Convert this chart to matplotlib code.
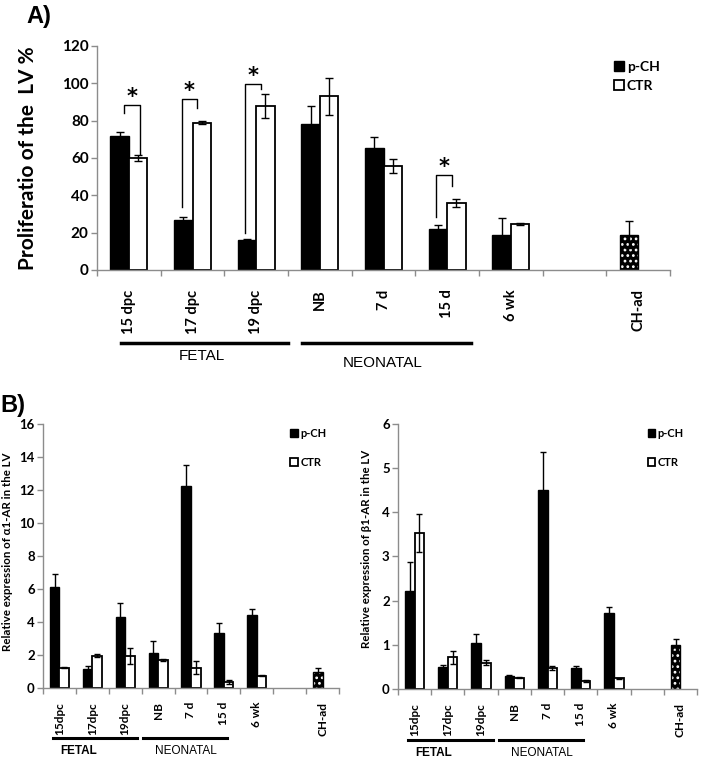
import matplotlib
matplotlib.use("Agg")
import matplotlib.pyplot as plt
import numpy as np

plt.rcParams["font.family"] = ["Lato", "DejaVu Sans"]
plt.rcParams["hatch.linewidth"] = 1.2

# ---- data --------------------------------------------------------------
a_labels = ["15 dpc", "17 dpc", "19 dpc", "NB", "7 d", "15 d", "6 wk", "", "CH-ad"]
a_pch = [72, 27, 16, 78, 65.5, 22, 18.6]
a_pch_err = [2, 1.5, 0.5, 10, 6, 2, 9.3]
a_ctr = [60, 79, 88, 93, 55.7, 36, 24.6]
a_ctr_err = [1.5, 1, 6.5, 10, 3.5, 2, 0.5]
a_chad = 19
a_chad_err = 7

# significance brackets: category, bracket top, left leg end, right leg end
sig_cats = [0, 1, 2, 5]
sig_top = [88.5, 91.6, 99.6, 51]
sig_left = [84, 34, 20, 28.5]
sig_right = [62, 87, 97, 45]
sig_shift = [0.1, 0.0, 0.0, 0.0]

b_labels = ["15dpc", "17dpc", "19dpc", "NB", "7 d", "15 d", "6 wk", "", "CH-ad"]
alpha_pch = [6.15, 1.18, 4.28, 2.11, 12.25, 3.31, 4.44]
alpha_pch_err = [0.75, 0.15, 0.85, 0.75, 1.25, 0.65, 0.33]
alpha_ctr = [1.22, 1.97, 1.93, 1.70, 1.24, 0.37, 0.75]
alpha_ctr_err = [0.03, 0.1, 0.5, 0.08, 0.37, 0.1, 0.03]
alpha_chad = 0.99
alpha_chad_err = 0.2

beta_pch = [2.22, 0.49, 1.05, 0.29, 4.5, 0.47, 1.71]
beta_pch_err = [0.65, 0.05, 0.19, 0.02, 0.86, 0.06, 0.15]
beta_ctr = [3.53, 0.72, 0.6, 0.26, 0.48, 0.18, 0.24]
beta_ctr_err = [0.43, 0.15, 0.06, 0.02, 0.04, 0.02, 0.02]
beta_chad = 1.0
beta_chad_err = 0.13

groups = ["FETAL", "NEONATAL"]

W = 0.29
GRAY = "#8c8c8c"


def draw_panel(ax, labels, pch, pch_err, ctr, ctr_err, chad, chad_err,
               ymax, ystep, capsize, tick_fs, xtick_fs, xpad):
    x = np.arange(len(pch))
    ax.bar(x - W / 2, pch, W, color="black", edgecolor="black", lw=1, label="p-CH", zorder=2)
    ax.bar(x + W / 2, ctr, W, color="white", edgecolor="black", lw=1.3, label="CTR", zorder=2)
    ax.errorbar(x - W / 2, pch, yerr=pch_err, fmt="none", ecolor="black",
                elinewidth=1, capsize=capsize, capthick=1, zorder=3)
    ax.errorbar(x + W / 2, ctr, yerr=ctr_err, fmt="none", ecolor="black",
                elinewidth=1, capsize=capsize, capthick=1, zorder=3)

    # adult group: single dotted bar in the p-CH slot
    xc = len(labels) - 1 - W / 2
    ax.bar([xc], [chad], W, color="black", edgecolor="white", hatch="...", lw=0, zorder=2)
    ax.bar([xc], [chad], W, fill=False, edgecolor="black", lw=1, zorder=2)
    ax.errorbar([xc], [chad], yerr=[chad_err], fmt="none", ecolor="black",
                elinewidth=1, capsize=capsize, capthick=1, zorder=3)

    ax.set_xlim(-0.5, len(labels) - 0.5)
    ax.set_ylim(0, ymax)
    ax.set_yticks(np.arange(0, ymax + 0.01, ystep))
    ax.set_xticks(np.arange(len(labels)))
    ax.set_xticklabels(labels, rotation=90, fontsize=xtick_fs, fontweight="bold")
    ax.set_xticks(np.arange(len(labels) + 1) - 0.5, minor=True)
    ax.tick_params(axis="x", which="major", length=0, pad=xpad)
    ax.tick_params(axis="x", which="minor", length=4, color=GRAY, width=1)
    ax.tick_params(axis="y", length=4, color=GRAY, width=1, pad=2, labelsize=tick_fs)
    for t in ax.get_yticklabels():
        t.set_fontweight("bold")
    for s in ["top", "right"]:
        ax.spines[s].set_visible(False)
    for s in ["left", "bottom"]:
        ax.spines[s].set_color(GRAY)
        ax.spines[s].set_linewidth(1)


fig = plt.figure(figsize=(7.01, 7.59), dpi=100)

# ---- panel A -----------------------------------------------------------
axA = fig.add_axes([0.1384, 0.6443, 0.8174, 0.2951])
draw_panel(axA, a_labels, a_pch, a_pch_err, a_ctr, a_ctr_err, a_chad, a_chad_err,
           120, 20, 3, 11, 10.5, 14)
axA.set_ylabel("Proliferatio of the  LV %", fontsize=15, fontweight="bold")
axA.yaxis.set_label_coords(-0.103, 0.5)

for c, top, lo_l, lo_r, sh in zip(sig_cats, sig_top, sig_left, sig_right, sig_shift):
    xl = c - 0.17 + sh
    xr = c + 0.07 + sh
    axA.plot([xl, xl, xr, xr], [lo_l, top, top, lo_r], color="black", lw=1, zorder=4)
    axA.text((xl + xr) / 2, top - 1, "*", ha="center", va="bottom", fontsize=15,
             fontweight="bold", family="DejaVu Sans")

tr = axA.get_xaxis_transform()
axA.plot([-0.12, 2.5], [-0.326, -0.326], color="black", lw=2.5, transform=tr, clip_on=False)
axA.plot([2.72, 5.37], [-0.326, -0.326], color="black", lw=2.5, transform=tr, clip_on=False)
axA.text(1.15, -0.385, groups[0], transform=tr, ha="center", va="center", fontsize=11,
         family="Liberation Sans")
axA.text(3.99, -0.415, groups[1], transform=tr, ha="center", va="center", fontsize=11,
         family="Liberation Sans")
axA.legend(loc="upper left", bbox_to_anchor=(0.903, 0.935), frameon=False, borderpad=0,
           borderaxespad=0, handlelength=0.7, handleheight=0.7, handletextpad=0.2,
           labelspacing=0.55, prop={"size": 10, "weight": "bold"})

fig.text(0.038, 0.978, "A)", fontsize=17, fontweight="bold", ha="left", va="center",
         family="Liberation Sans")
fig.text(0.0, 0.466, "B)", fontsize=17, fontweight="bold", ha="left", va="center",
         family="Liberation Sans")

# ---- panel B -----------------------------------------------------------
axL = fig.add_axes([0.0613, 0.0935, 0.4223, 0.3478])
draw_panel(axL, b_labels, alpha_pch, alpha_pch_err, alpha_ctr, alpha_ctr_err,
           alpha_chad, alpha_chad_err, 16, 2, 2.2, 9.5, 8.5, 10)
axL.set_ylabel("Relative expression of α1-AR in the LV", fontsize=8.3, fontweight="bold")
axL.yaxis.set_label_coords(-0.10, 0.515)

axR = fig.add_axes([0.5678, 0.0922, 0.4265, 0.3492])
draw_panel(axR, b_labels, beta_pch, beta_pch_err, beta_ctr, beta_ctr_err,
           beta_chad, beta_chad_err, 6, 1, 2.2, 9.5, 8.5, 10)
axR.set_ylabel("Relative expression of β1-AR in the LV", fontsize=8.3, fontweight="bold")
axR.yaxis.set_label_coords(-0.087, 0.53)

for ax in (axL, axR):
    tr = ax.get_xaxis_transform()
    ax.plot([-0.2, 2.35], [-0.191, -0.191], color="black", lw=2.2, transform=tr, clip_on=False)
    ax.plot([2.55, 5.08], [-0.191, -0.191], color="black", lw=2.2, transform=tr, clip_on=False)
    ax.text(0.57, -0.24, groups[0], transform=tr, ha="center", va="center", fontsize=8.5,
            fontweight="bold", family="Liberation Sans")
    ax.text(3.83, -0.24, groups[1], transform=tr, ha="center", va="center", fontsize=8.5,
            family="Liberation Sans")
    ax.legend(loc="upper left", bbox_to_anchor=(0.835, 0.985), frameon=False, borderpad=0,
              borderaxespad=0, handlelength=0.7, handleheight=0.7, handletextpad=0.2,
              labelspacing=1.6, prop={"size": 8, "weight": "bold"})

fig.savefig("out.png", dpi=100)
